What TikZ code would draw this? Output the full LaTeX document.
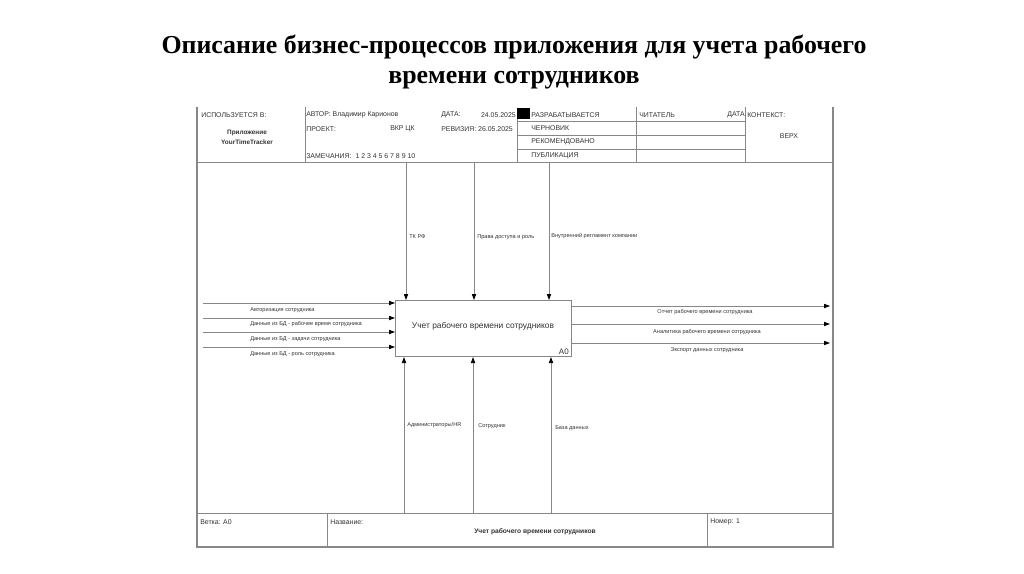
\documentclass[tikz,border=0pt]{standalone}
\usepackage{fontspec}
\setmainfont{Liberation Serif}
\newfontfamily\lsans{Liberation Sans}
\usetikzlibrary{arrows.meta}
\definecolor{lncol}{RGB}{135,135,135}
\definecolor{txcol}{RGB}{50,50,50}
\tikzset{
  frame/.style={draw=lncol, line width=1.1pt},
  thin/.style={draw=lncol, line width=0.7pt},
  arr/.style={draw=lncol, line width=0.6pt, -{Triangle[length=4.5pt,width=3.2pt,color=black]}},
  hdr/.style={font=\lsans\fontsize{5.2}{6}\selectfont, text=txcol, inner sep=0pt},
  lbl/.style={font=\lsans\fontsize{4.2}{5}\selectfont, text=txcol, inner sep=0pt},
  mainbox/.style={draw=lncol, line width=0.8pt, minimum width=132pt, minimum height=42pt, inner sep=0pt},
}
\begin{document}
\begin{tikzpicture}[x=0.75pt,y=-0.75pt]
\useasboundingbox (0,0) rectangle (1024,574);
% title
\node[font=\bfseries\fontsize{19.4}{22.5}\selectfont, align=center, text=black] (title) at (514,62)
 {Описание бизнес-процессов приложения для учета рабочего\\времени сотрудников};
% frame
\coordinate (tl) at (197,107); \coordinate (tr) at (833,107);
\coordinate (bl) at (197,547); \coordinate (br) at (833,547);
\draw[frame] (tl) -- (bl) -- (br) -- (tr);
\draw[thin] (197,162) -- (833,162);
\draw[thin] (197,513) -- (833,513);
\draw[thin] (327,513) -- (327,547);
\draw[thin] (707,513) -- (707,547);
% header lines
\draw[thin] (305,107) -- (305,162);
\draw[thin] (517,119) -- (517,162);
\draw[thin] (636,107) -- (636,162);
\draw[thin] (745,107) -- (745,162);
\draw[thin] (517,121) -- (745,121);
\draw[thin] (517,135) -- (745,135);
\draw[thin] (517,149) -- (745,149);
\fill[black] (517,108) rectangle (530,119);
% header texts
\node[hdr, anchor=west] (h1) at (201,115) {ИСПОЛЬЗУЕТСЯ В:};
\node[hdr, align=center, font=\lsans\bfseries\fontsize{4.8}{7.5}\selectfont, text=txcol] (h2) at (247,137) {Приложение\\YourTimeTracker};
\node[hdr, anchor=west] (h3) at (306,115) {АВТОР: Владимир Карионов};
\node[hdr, anchor=west] (h4) at (306,129) {ПРОЕКТ:};
\node[hdr, anchor=west] (h5) at (390,129) {ВКР ЦК};
\node[hdr, anchor=west] (h6) at (441,115) {ДАТА:};
\node[hdr, anchor=east] (h7) at (516,115) {24.05.2025};
\node[hdr, anchor=west] (h8) at (441,129) {РЕВИЗИЯ: 26.05.2025};
\node[hdr, anchor=west] (h9) at (306,156) {ЗАМЕЧАНИЯ:\ \ 1 2 3 4 5 6 7 8 9 10};
\node[hdr, anchor=west] (s1) at (531,115) {РАЗРАБАТЫВАЕТСЯ};
\node[hdr, anchor=west] (s2) at (531,128) {ЧЕРНОВИК};
\node[hdr, anchor=west] (s3) at (531,142) {РЕКОМЕНДОВАНО};
\node[hdr, anchor=west] (s4) at (531,156) {ПУБЛИКАЦИЯ};
\node[hdr, anchor=west] (r1) at (639,115) {ЧИТАТЕЛЬ};
\node[hdr, anchor=east] (r2) at (745,115) {ДАТА};
\node[hdr, anchor=west] (k1) at (747,115) {КОНТЕКСТ:};
\node[hdr] (k2) at (789,136) {ВЕРХ};
% main box
\node[mainbox, anchor=north west] (box) at (395,300) {};
\node[font=\lsans\fontsize{6.3}{7}\selectfont, text=txcol, inner sep=0pt] (boxt) at (483,326) {Учет рабочего времени сотрудников};
\node[hdr, anchor=south east, font=\lsans\fontsize{6}{7}\selectfont] (a0) at (569,355) {A0};
% controls
\coordinate (c1) at (406,162); \coordinate (c2) at (474,162); \coordinate (c3) at (549,162);
\draw[arr] (c1) -- (c1 |- box.north);
\draw[arr] (c2) -- (c2 |- box.north);
\draw[arr] (c3) -- (c3 |- box.north);
\node[lbl, anchor=west] (lc1) at (409,237) {ТК РФ};
\node[lbl, anchor=west] (lc2) at (477,237) {Права доступа и роль};
\node[lbl, anchor=west] (lc3) at (551,236) {Внутренний регламент компании};
% mechanisms
\coordinate (m1) at (404,513); \coordinate (m2) at (473,513); \coordinate (m3) at (551,513);
\draw[arr] (m1) -- (m1 |- box.south);
\draw[arr] (m2) -- (m2 |- box.south);
\draw[arr] (m3) -- (m3 |- box.south);
\node[lbl, anchor=west] (lm1) at (407,425) {Администраторы/HR};
\node[lbl, anchor=west] (lm2) at (478,426) {Сотрудник};
\node[lbl, anchor=west] (lm3) at (555,428) {База данных};
% inputs
\coordinate (i1) at (203,303); \coordinate (i2) at (203,318);
\coordinate (i3) at (203,332); \coordinate (i4) at (203,347);
\draw[arr] (i1) -- (i1 -| box.west);
\draw[arr] (i2) -- (i2 -| box.west);
\draw[arr] (i3) -- (i3 -| box.west);
\draw[arr] (i4) -- (i4 -| box.west);
\node[lbl, anchor=west] (li1) at (250,310) {Авторизация сотрудника};
\node[lbl, anchor=west] (li2) at (250,324) {Данные из БД - рабочее время сотрудника};
\node[lbl, anchor=west] (li3) at (250,339) {Данные из БД - задачи сотрудника};
\node[lbl, anchor=west] (li4) at (250,354) {Данные из БД - роль сотрудника};
% outputs
\coordinate (o1) at (830,306); \coordinate (o2) at (830,324); \coordinate (o3) at (830,343);
\draw[arr] (o1 -| box.east) -- (o1);
\draw[arr] (o2 -| box.east) -- (o2);
\draw[arr] (o3 -| box.east) -- (o3);
\node[lbl] (lo1) at (705,312) {Отчет рабочего времени сотрудника};
\node[lbl] (lo2) at (707,332) {Аналитика рабочего времени сотрудника};
\node[lbl] (lo3) at (707,350) {Экспорт данных сотрудника};
% bottom strip
\node[hdr, anchor=west] (b1) at (200,522) {Ветка: A0};
\node[hdr, anchor=west] (b2) at (330,522) {Название:};
\node[hdr, font=\lsans\bfseries\fontsize{5}{6}\selectfont] (b3) at (535,532) {Учет рабочего времени сотрудников};
\node[hdr, anchor=west] (b4) at (710,522) {Номер: 1};
\end{tikzpicture}
\end{document}
